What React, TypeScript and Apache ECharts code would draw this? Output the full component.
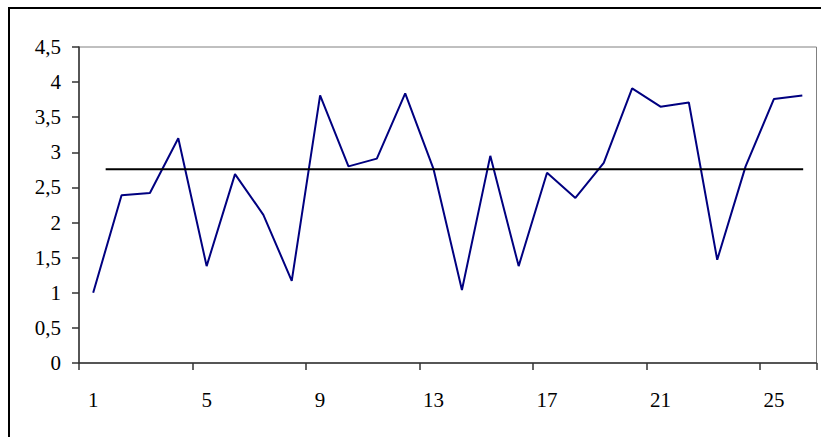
import React, { useEffect, useRef } from "react";
import * as echarts from "echarts";

const categories: string[] = Array.from({ length: 26 }, (_, i) => String(i + 1));
const values: number[] = [
  1.0, 2.39, 2.42, 3.2, 1.38, 2.69, 2.11, 1.17, 3.81, 2.8, 2.91, 3.84, 2.76,
  1.04, 2.95, 1.38, 2.71, 2.35, 2.85, 3.91, 3.65, 3.71, 1.47, 2.8, 3.76, 3.81,
];
const meanValue = 2.76;
const meanStart = 0.94;
const meanEnd = 25.53;

export default function App() {
  const ref = useRef<HTMLDivElement>(null);
  useEffect(() => {
    if (!ref.current) return;
    const chart = echarts.init(ref.current, undefined, { renderer: "svg" });
    const font = "'Liberation Serif', 'Times New Roman', serif";
    chart.setOption({
      animation: false,
      backgroundColor: "#ffffff",
      graphic: [
        {
          type: "rect",
          shape: { x: 9, y: 8, width: 900, height: 600 },
          style: { fill: "none", stroke: "#000000", lineWidth: 2 },
          silent: true,
        },
      ],
      grid: {
        left: 79,
        top: 47,
        right: 4.5,
        bottom: 74,
        show: true,
        borderColor: "#808080",
        borderWidth: 1,
        backgroundColor: "transparent",
      },
      xAxis: [
        {
          type: "category",
          data: categories,
          boundaryGap: true,
          axisLine: { show: true, lineStyle: { color: "#333333", width: 1.5 } },
          axisTick: { show: true, interval: 3, length: 7, lineStyle: { color: "#333333", width: 1.5 } },
          axisLabel: {
            interval: 3,
            margin: 26,
            color: "#000000",
            fontFamily: font,
            fontSize: 21,
          },
          splitLine: { show: false },
        },
        {
          type: "value",
          min: 0,
          max: 26,
          show: false,
        },
      ],
      yAxis: {
        type: "value",
        min: 0,
        max: 4.5,
        interval: 0.5,
        axisLine: { show: true, lineStyle: { color: "#333333", width: 1.5 } },
        axisTick: { show: true, length: 7, lineStyle: { color: "#333333", width: 1.5 } },
        axisLabel: {
          margin: 18,
          color: "#000000",
          fontFamily: font,
          fontSize: 21,
          formatter: (v: number) => String(v).replace(".", ","),
        },
        splitLine: { show: false },
      },
      series: [
        {
          type: "line",
          data: values,
          xAxisIndex: 0,
          symbol: "none",
          lineStyle: { color: "#000080", width: 2 },
        },
        {
          type: "line",
          xAxisIndex: 1,
          data: [
            [meanStart, meanValue],
            [meanEnd, meanValue],
          ],
          symbol: "none",
          lineStyle: { color: "#000000", width: 2 },
        },
      ],
    });
    return () => chart.dispose();
  }, []);
  return (
    <div
      ref={ref}
      style={{ position: "fixed", left: 0, top: 0, width: 821, height: 437 }}
    />
  );
}
